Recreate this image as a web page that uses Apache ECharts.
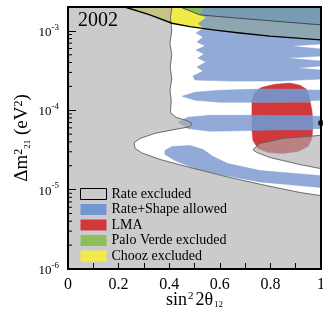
<!DOCTYPE html>
<html>
<head>
<meta charset="utf-8">
<script src="https://cdn.jsdelivr.net/npm/echarts@6.0.0/dist/echarts.min.js"></script>
<style>
  html, body { margin: 0; padding: 0; background: #fff; }
  #chart { width: 323px; height: 310px; }
</style>
</head>
<body>
<div id="chart"></div>
<script>
// KamLAND 2002 - sin^2 2theta vs dm^2 exclusion / allowed regions
var X_MIN = 0, X_MAX = 1, Y_MIN = 1e-6, Y_MAX = 2e-3;

// boundary of the rate-excluded (gray) region, top edge -> right edge
var rateLine = [[0.411, 2.0e-3], [0.405, 1.5e-3], [0.41, 1.0e-3], [0.403, 7.0e-4], [0.41, 5.0e-4], [0.404, 3.5e-4],
  [0.41, 2.5e-4], [0.403, 1.8e-4], [0.408, 1.3e-4], [0.405, 1.0e-4], [0.407, 9.16e-5], [0.427, 8.15e-5],
  [0.466, 7.5e-5], [0.49, 6.85e-5], [0.482, 6.2e-5], [0.423, 5.74e-5], [0.344, 5.12e-5], [0.285, 4.42e-5],
  [0.261, 3.9e-5], [0.265, 3.3e-5], [0.292, 2.9e-5], [0.364, 2.4e-5], [0.482, 1.9e-5], [0.64, 1.42e-5],
  [0.798, 1.1e-5], [0.917, 9.2e-6], [1.0, 8.4e-6]];
// excluded island on the right
var rateIsland = [[0.731, 3.2e-5], [0.759, 3.82e-5], [0.85, 4.42e-5], [1.0, 4.83e-5], [1.0, 1.84e-5],
  [0.917, 2.07e-5], [0.798, 2.54e-5], [0.745, 2.95e-5]];

// rate+shape allowed bands
var shapeTop = [[0.542, 2.0e-3], [1.0, 2.0e-3], [1.0, 6.84e-4], [0.877, 6.46e-4], [1.0, 5.92e-4], [1.0, 4.82e-4],
  [0.858, 4.55e-4], [1.0, 4.17e-4], [1.0, 3.6e-4], [0.897, 3.4e-4], [1.0, 3.21e-4], [1.0, 2.47e-4],
  [0.838, 2.33e-4], [0.64, 2.33e-4], [0.502, 2.4e-4], [0.494, 2.7e-4], [0.534, 3.12e-4], [0.51, 3.5e-4],
  [0.545, 4.05e-4], [0.514, 4.55e-4], [0.538, 5.11e-4], [0.506, 5.74e-4], [0.542, 6.46e-4], [0.51, 7.26e-4],
  [0.534, 8.4e-4], [0.506, 9.44e-4], [0.538, 1.09e-3], [0.514, 1.23e-3], [0.545, 1.46e-3], [0.522, 1.64e-3]];
var shapeB = [[0.451, 1.5e-4], [0.502, 1.69e-4], [0.601, 1.79e-4], [0.759, 1.85e-4], [1.0, 1.79e-4],
  [1.0, 1.34e-4], [0.759, 1.26e-4], [0.601, 1.26e-4], [0.502, 1.34e-4]];
var shapeC = [[0.435, 7.05e-5], [0.474, 8.15e-5], [0.561, 8.65e-5], [0.759, 8.65e-5], [1.0, 8.4e-5],
  [1.0, 5.91e-5], [0.759, 5.58e-5], [0.561, 5.42e-5], [0.474, 5.91e-5]];
var shapeD = [[0.383, 3.12e-5], [0.411, 3.5e-5], [0.482, 3.61e-5], [0.534, 3.21e-5], [0.573, 2.62e-5],
  [0.632, 2.13e-5], [0.759, 1.74e-5], [1.0, 1.5e-5], [1.0, 1.06e-5], [0.759, 1.25e-5], [0.601, 1.55e-5],
  [0.502, 1.84e-5], [0.423, 2.33e-5], [0.383, 2.78e-5]];

// LMA solar region, read as red pieces and the mauve stripes where the allowed bands cross it
var lmaTop = [[0.755, 1.85e-4], [0.767, 1.95e-4], [0.818, 2.13e-4], [0.877, 2.2e-4], [0.917, 2.07e-4],
  [0.941, 1.85e-4]];
var lmaMid = [[0.727, 1.26e-4], [0.958, 1.26e-4], [0.964, 1.0e-4], [0.966, 8.55e-5], [0.727, 8.55e-5],
  [0.727, 1.0e-4]];
var lmaBottom = [[0.727, 5.65e-5], [0.967, 5.65e-5], [0.964, 4.42e-5], [0.949, 3.5e-5], [0.909, 3.03e-5],
  [0.85, 2.86e-5], [0.791, 2.94e-5], [0.751, 3.3e-5], [0.731, 4.17e-5]];
var lmaStripeB = [[0.755, 1.85e-4], [0.941, 1.85e-4], [0.945, 1.79e-4], [0.957, 1.34e-4], [0.958, 1.26e-4],
  [0.727, 1.26e-4], [0.727, 1.34e-4], [0.739, 1.69e-4]];
var lmaStripeC = [[0.727, 8.55e-5], [0.966, 8.55e-5], [0.968, 6.45e-5], [0.967, 5.65e-5], [0.727, 5.65e-5],
  [0.727, 6.45e-5]];

// reactor exclusion boundaries (region above the line is excluded)
var choozLine = [[0.225, 2.0e-3], [0.324, 1.59e-3], [0.411, 1.25e-3], [0.482, 1.13e-3], [0.573, 1.03e-3],
  [0.68, 9.4e-4], [0.798, 8.6e-4], [1.0, 7.7e-4]];
var paloVerdeLine = [[0.443, 2.0e-3], [0.522, 1.59e-3], [0.68, 1.44e-3], [1.0, 1.19e-3]];

var bestFit = [[1.0, 6.9e-5]];
var minorTicks = [2e-6, 3e-6, 4e-6, 5e-6, 6e-6, 7e-6, 8e-6, 9e-6, 2e-5, 3e-5, 4e-5, 5e-5, 6e-5, 7e-5, 8e-5, 9e-5,
  2e-4, 3e-4, 4e-4, 5e-4, 6e-4, 7e-4, 8e-4, 9e-4];
var xTicks = [0, 0.2, 0.4, 0.6, 0.8, 1];

var serif = 'Liberation Serif';
var GRAY = 'rgba(172,172,172,0.63)';
var BLUE = 'rgba(114,146,205,0.78)';
var MAUVE = '#9a8195';
var RED = '#d0383c';
var GREEN = '#8cbd5b';
var YELLOW = '#f0ea4a';
var TOP = 3; // zlevel for axes, legend, marks on top

function toPts(api, poly) { return poly.map(function (p) { return api.coord(p); }); }

// each area group sits on its own canvas layer so the overlaps mix like the original
function areaSeries(polys, fill, zlevel) {
  return {
    type: 'custom', coordinateSystem: 'cartesian2d', zlevel: zlevel, z: 2, silent: true, clip: true,
    data: [[X_MIN, Y_MIN]],
    renderItem: function (params, api) {
      return { type: 'group', children: polys.map(function (poly) {
        return { type: 'polygon', shape: { points: toPts(api, poly) }, style: { fill: fill, stroke: fill, lineWidth: 0.5 } };
      }) };
    }
  };
}
function edgeSeries(lines, color, width, zlevel) {
  return {
    type: 'custom', coordinateSystem: 'cartesian2d', zlevel: zlevel, z: 3, silent: true, clip: true,
    data: [[X_MIN, Y_MIN]],
    renderItem: function (params, api) {
      return { type: 'group', children: lines.map(function (ln) {
        return { type: 'polyline', shape: { points: toPts(api, ln) }, style: { fill: null, stroke: color, lineWidth: width } };
      }) };
    }
  };
}
function legendOnly(name) {
  return { name: name, type: 'custom', coordinateSystem: 'cartesian2d', data: [], renderItem: function () { return null; } };
}

var chart = echarts.init(document.getElementById('chart'), null, { renderer: 'canvas' });
chart.setOption({
  animation: false,
  grid: { left: 68, right: 2, top: 7, bottom: 41, outerBoundsMode: 'none', containLabel: false,
    show: true, backgroundColor: '#fff', borderWidth: 0 },
  title: { text: '2002', left: 78, top: 11, padding: 0, zlevel: TOP, textStyle: { fontFamily: serif, fontSize: 20, fontWeight: 'normal', color: '#000' } },
  legend: {
    orient: 'vertical', left: 80, top: 187, padding: 0, zlevel: TOP, itemWidth: 26, itemHeight: 11, itemGap: 1.5, selectedMode: false,
    textStyle: { fontFamily: serif, fontSize: 14, color: '#000' },
    data: [
      { name: 'Rate excluded', icon: 'rect', itemStyle: { color: '#cbcbcb', borderColor: '#000', borderWidth: 1 } },
      { name: 'Rate+Shape allowed', icon: 'rect', itemStyle: { color: '#7396d2' } },
      { name: 'LMA', icon: 'rect', itemStyle: { color: '#d2373c' } },
      { name: 'Palo Verde excluded', icon: 'rect', itemStyle: { color: '#8cbe5a' } },
      { name: 'Chooz excluded', icon: 'rect', itemStyle: { color: '#f0eb4b' } }
    ]
  },
  xAxis: [{
    type: 'value', min: X_MIN, max: X_MAX, interval: 0.1, zlevel: TOP,
    axisLine: { show: true, lineStyle: { color: '#000', width: 2 } },
    axisTick: { inside: true, length: 6, lineStyle: { color: '#000', width: 1 } },
    axisLabel: { margin: 8, fontFamily: serif, fontSize: 16, color: '#000',
      formatter: function (v) { return xTicks.indexOf(Math.round(v * 10) / 10) >= 0 ? String(Math.round(v * 10) / 10) : ''; } },
    splitLine: { show: false },
    name: '{a|sin}{p|2}{a|2θ}{s|12}', nameLocation: 'middle', nameGap: 22, nameMoveOverlap: false,
    nameTextStyle: { rich: {
      a: { fontFamily: serif, fontSize: 18, color: '#000', verticalAlign: 'bottom' },
      p: { fontFamily: serif, fontSize: 11, color: '#000', verticalAlign: 'top', padding: [0, 2, 0, 1] },
      s: { fontFamily: serif, fontSize: 9, color: '#000', verticalAlign: 'bottom', padding: [0, 0, 0, 1] }
    } }
  }, {
    type: 'value', position: 'top', min: X_MIN, max: X_MAX, zlevel: TOP,
    axisLine: { show: true, onZero: false, lineStyle: { color: '#000', width: 2 } },
    axisTick: { show: false }, axisLabel: { show: false }, splitLine: { show: false }
  }],
  yAxis: [{
    type: 'log', logBase: 10, min: Y_MIN, max: Y_MAX, zlevel: TOP,
    axisLine: { show: true, lineStyle: { color: '#000', width: 2 } },
    axisTick: { inside: true, length: 8, lineStyle: { color: '#000', width: 1 } },
    axisLabel: { margin: 9, showMaxLabel: false,
      formatter: function (v) {
        var e = Math.round(Math.log10(v));
        if (Math.abs(Math.log10(v) - e) > 1e-6) return '';
        return '{b|10}{s|' + e + '}';
      },
      rich: {
        b: { fontFamily: serif, fontSize: 13, color: '#000', verticalAlign: 'bottom' },
        s: { fontFamily: serif, fontSize: 9, color: '#000', verticalAlign: 'top', padding: [0, 0, 7, 0] }
      }
    },
    splitLine: { show: false },
    name: '{a|Δm}{p|2}{s|21}{a| (eV}{p|2}{a|)}', nameLocation: 'middle', nameRotate: 90, nameGap: 36, nameMoveOverlap: false,
    nameTextStyle: { rich: {
      a: { fontFamily: serif, fontSize: 19, color: '#000', verticalAlign: 'bottom' },
      p: { fontFamily: serif, fontSize: 12, color: '#000', verticalAlign: 'top' },
      s: { fontFamily: serif, fontSize: 9, color: '#000', verticalAlign: 'bottom' }
    } }
  }, {
    type: 'value', position: 'right', min: 0, max: 1, zlevel: TOP,
    axisLine: { show: true, onZero: false, lineStyle: { color: '#000', width: 2 } },
    axisTick: { show: false }, axisLabel: { show: false }, splitLine: { show: false }
  }],
  series: [
    areaSeries([choozLine.concat([[X_MAX, Y_MAX]])], YELLOW, 0),
    areaSeries([paloVerdeLine.concat([[X_MAX, Y_MAX]])], GREEN, 0),
    areaSeries([lmaTop, lmaMid, lmaBottom], RED, 0),
    areaSeries([lmaStripeB, lmaStripeC], MAUVE, 0),
    areaSeries([shapeTop, shapeB, shapeC, shapeD], BLUE, 1),
    areaSeries([[[X_MIN, Y_MAX]].concat(rateLine, [[X_MAX, Y_MIN], [X_MIN, Y_MIN]]), rateIsland], GRAY, 2),
    edgeSeries([rateLine, rateIsland.concat([rateIsland[0]])], '#555', 0.8, 2),
    edgeSeries([paloVerdeLine], '#333', 0.8, 2),
    edgeSeries([choozLine], '#000', 1.4, 2),
    legendOnly('Rate excluded'),
    legendOnly('Rate+Shape allowed'),
    legendOnly('LMA'),
    legendOnly('Palo Verde excluded'),
    legendOnly('Chooz excluded'),
    {
      type: 'custom', coordinateSystem: 'cartesian2d', zlevel: TOP, silent: true,
      data: minorTicks.map(function (v) { return [X_MIN, v]; }),
      renderItem: function (params, api) {
        var p = api.coord([api.value(0), api.value(1)]);
        return { type: 'line', shape: { x1: p[0], y1: p[1], x2: p[0] + 4, y2: p[1] }, style: { stroke: '#000', lineWidth: 1 } };
      }
    },
    { type: 'scatter', data: bestFit, symbol: 'circle', symbolSize: 6, itemStyle: { color: '#000' }, zlevel: TOP, clip: false, silent: true }
  ]
});
</script>
</body>
</html>
